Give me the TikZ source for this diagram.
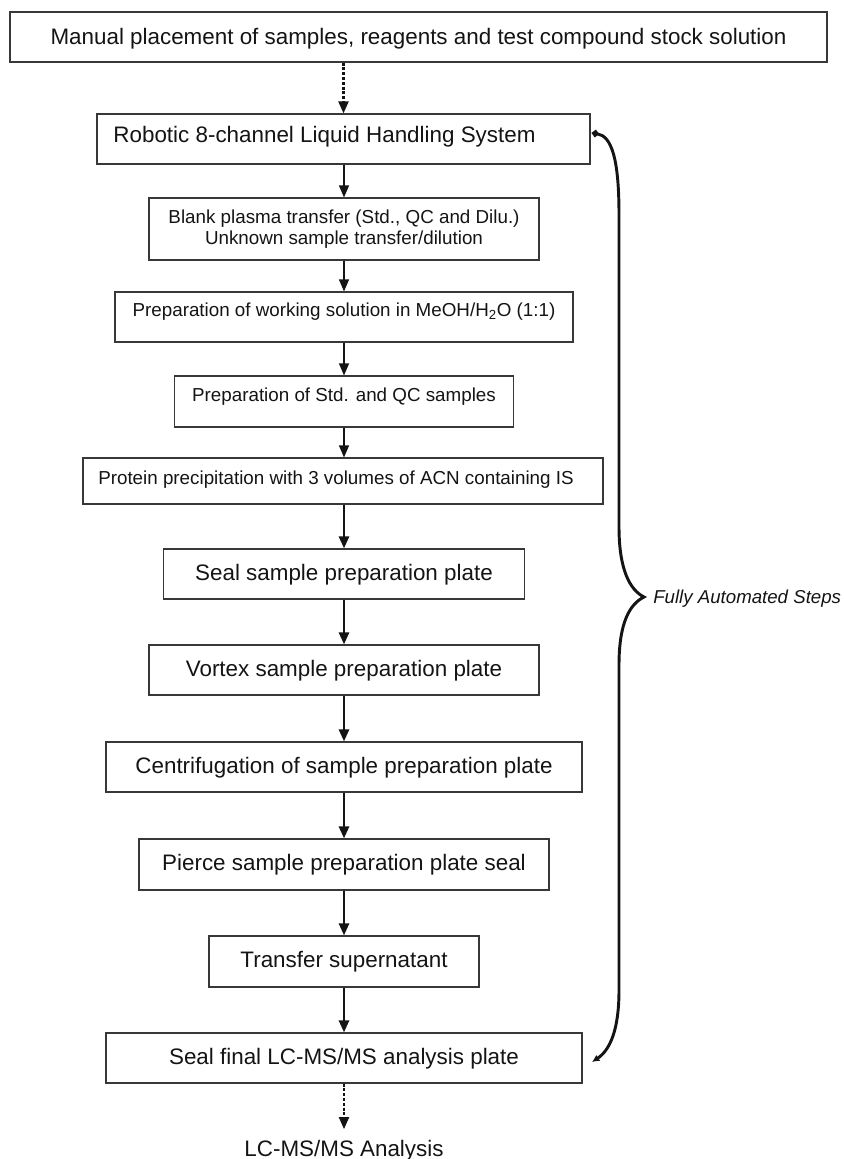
\documentclass[tikz,border=0pt]{standalone}
\usepackage{fontspec}
\setmainfont{Liberation Sans}
\usetikzlibrary{arrows.meta}

\begin{document}
\begin{tikzpicture}[x=0.75pt,y=-0.75pt,
  stepbox/.style={draw=black!78, line width=0.9pt, inner sep=0pt, text=black!92},
  bigtxt/.style={font=\fontsize{16.8pt}{20pt}\selectfont, text height=12pt, text depth=#1},
  bigtxt/.default=0pt,
  smalltxt/.style={font=\fontsize{14.1pt}{15.75pt}\selectfont, text height=10.1pt, text depth=#1},
  smalltxt/.default=0pt,
  thin flow/.style={-{Triangle[length=9pt,width=7.5pt]}, line width=0.9pt, black!92},
  thick flow/.style={-{Triangle[length=9pt,width=7.5pt]}, line width=2pt, black!92},
  dotted flow/.style={-{Triangle[length=9pt,width=7.5pt]}, line width=1.6pt,
                      dash pattern=on 2.2pt off 1.4pt, black!92},
  brace line/.style={line width=2.2pt, black!92},
]
\useasboundingbox (0,0) rectangle (843,1159);

% manual step
\node[stepbox, bigtxt, minimum width=612.75pt, minimum height=37.5pt] (top) at (418.5,37)
  {Manual placement of samples, reagents and test compound stock solution};

% automated steps
\node[stepbox, bigtxt=6pt, minimum width=369.75pt, minimum height=37.5pt] (robot) at (343.5,139)
  {Robotic 8-channel Liquid Handling System\kern28.5pt};
\node[stepbox, align=center, font=\fontsize{14.1pt}{15.75pt}\selectfont,
      minimum width=292.5pt, minimum height=46.5pt] (blank) at (344,229)
  {Blank plasma transfer (Std., QC and Dilu.)\\Unknown sample transfer/dilution};
\node[stepbox, smalltxt=10.5pt, minimum width=343.5pt, minimum height=37.5pt] (work) at (344,317)
  {Preparation of working solution in MeOH/H\textsubscript{2}O (1:1)};
\node[stepbox, smalltxt=10.5pt, minimum width=254.25pt, minimum height=38.25pt] (stdqc) at (344,401.5)
  {Preparation of Std. and QC samples};
\node[stepbox, smalltxt=4.5pt, minimum width=390pt, minimum height=34.5pt] (prot) at (343,481)
  {Protein precipitation with 3 volumes of ACN containing IS\kern10.5pt};
\node[stepbox, bigtxt=3pt, minimum width=270.75pt, minimum height=37.5pt] (seal) at (344,574)
  {Seal sample preparation plate};
\node[stepbox, bigtxt=3pt, minimum width=292.5pt, minimum height=37.5pt] (vortex) at (344,670)
  {Vortex sample preparation plate};
\node[stepbox, bigtxt=3pt, minimum width=357pt, minimum height=37.5pt] (centri) at (344,767)
  {Centrifugation of sample preparation plate};
\node[stepbox, bigtxt=3pt, minimum width=307.5pt, minimum height=38.25pt] (pierce) at (344,864.5)
  {Pierce sample preparation plate seal};
\node[stepbox, bigtxt=3pt, minimum width=202.5pt, minimum height=38.25pt] (super) at (344,961.5)
  {Transfer supernatant};
\node[stepbox, bigtxt=3pt, minimum width=357pt, minimum height=37.5pt] (final) at (344,1058)
  {Seal final LC-MS/MS analysis plate};

% analysis
\node[bigtxt, inner sep=0pt, text=black!92] (lcms) at (344,1148) {LC-MS/MS Analysis};

% flow connectors
\draw[dotted flow] (top.south -| robot.north) -- (robot.north);
\draw[thin flow] (robot.south -| blank.north) -- (blank.north);
\draw[thin flow] (blank.south) -- (work.north);
\draw[thin flow] (work.south) -- (stdqc.north);
\draw[thin flow] (stdqc.south) -- (stdqc.south |- prot.north);
\draw[thick flow] (prot.south -| seal.north) -- (seal.north);
\draw[thick flow] (seal.south) -- (vortex.north);
\draw[thick flow] (vortex.south) -- (centri.north);
\draw[thick flow] (centri.south) -- (pierce.north);
\draw[thick flow] (pierce.south) -- (super.north);
\draw[thick flow] (super.south) -- (final.north);
\draw[dotted flow, shorten >=8pt] (final.south) -- (lcms.north);

% brace spanning the automated steps
\coordinate (bt) at (592,133);
\coordinate (bb) at (592,1062);
\draw[brace line, {Circle[length=5pt]}-{Latex[length=5.5pt,width=5.5pt]}]
  (bt) .. controls (612,136) and (619,160) .. (619,215)
  -- (619,527) .. controls (619,570) and (630,590) .. (644,597)
  .. controls (630,604) and (619,622) .. (619,665)
  -- (619,990) .. controls (619,1030) and (610,1050) .. (bb);
\node[anchor=west, inner sep=0pt, font=\itshape\fontsize{14pt}{16pt}\selectfont,
      text height=10pt, text depth=0pt, text=black!92] (auto) at (653,597)
  {Fully Automated Steps};
\end{tikzpicture}
\end{document}
